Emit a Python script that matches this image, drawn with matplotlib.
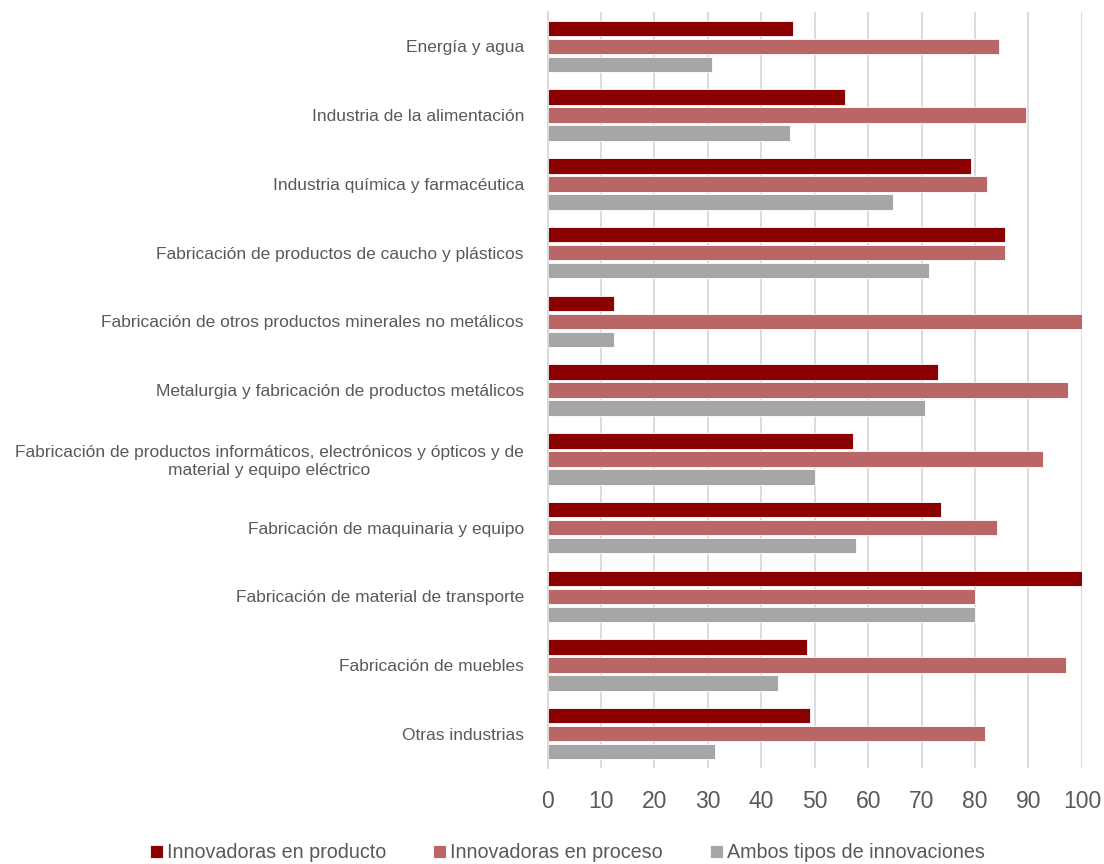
import matplotlib
matplotlib.use('Agg')
import matplotlib.pyplot as plt
import numpy as np

# Data (percentages)
categories = [
    "Energía y agua",
    "Industria de la alimentación",
    "Industria química y farmacéutica",
    "Fabricación de productos de caucho y plásticos",
    "Fabricación de otros productos minerales no metálicos",
    "Metalurgia y fabricación de productos metálicos",
    "Fabricación de productos informáticos, electrónicos y ópticos y de\nmaterial y equipo eléctrico",
    "Fabricación de maquinaria y equipo",
    "Fabricación de material de transporte",
    "Fabricación de muebles",
    "Otras industrias",
]
producto = [46.0, 55.6, 79.3, 85.6, 12.5, 73.0, 57.1, 73.6, 100.0, 48.5, 49.2]
proceso = [84.5, 89.5, 82.2, 85.6, 100.0, 97.4, 92.7, 84.1, 80.0, 97.1, 81.9]
ambos = [30.7, 45.3, 64.6, 71.3, 12.5, 70.7, 50.0, 57.8, 80.0, 43.1, 31.3]

series_labels = ["Innovadoras en producto", "Innovadoras en proceso", "Ambos tipos de innovaciones"]
colors = ["#8B0000", "#BA6666", "#A6A6A6"]

FONT = ['Liberation Sans Narrow', 'Liberation Sans', 'DejaVu Sans']
TEXT_COLOR = "#595959"
plt.rcParams['font.family'] = FONT

fig = plt.figure(figsize=(11.04, 8.64), dpi=100)
ax = fig.add_axes([0.496, 0.111, 0.484, 0.875])

y = np.arange(len(categories))
step = 0.262
height = 0.225
for k, (vals, lab, col) in enumerate(zip([producto, proceso, ambos], series_labels, colors)):
    ax.barh(y + (k - 1) * step, vals, height=height, color=col, label=lab,
            edgecolor='white', linewidth=0.6, zorder=2)

ax.set_xlim(0, 100)
ax.set_ylim(len(categories) - 0.5, -0.5)
ax.set_xticks(np.arange(0, 101, 10))
ax.set_yticks(y)
ax.set_yticklabels(categories, fontsize=12.5, color=TEXT_COLOR, multialignment='center')
ax.tick_params(axis='y', length=0, pad=17)
ax.tick_params(axis='x', length=0, pad=16, labelsize=16.5, labelcolor=TEXT_COLOR)
ax.xaxis.grid(True, color='#D9D9D9', linewidth=1.3, zorder=0)
ax.set_axisbelow(True)
for side in ['top', 'right', 'bottom']:
    ax.spines[side].set_visible(False)
ax.spines['left'].set_color('#D9D9D9')
ax.spines['left'].set_linewidth(1.3)

fig.legend(loc='center', bbox_to_anchor=(0.514, 0.013), ncol=3, frameon=False,
           fontsize=14.2, labelcolor=TEXT_COLOR, handlelength=0.65, handleheight=0.65,
           handletextpad=0.2, columnspacing=2.4)

fig.savefig('out.png', dpi=100)
